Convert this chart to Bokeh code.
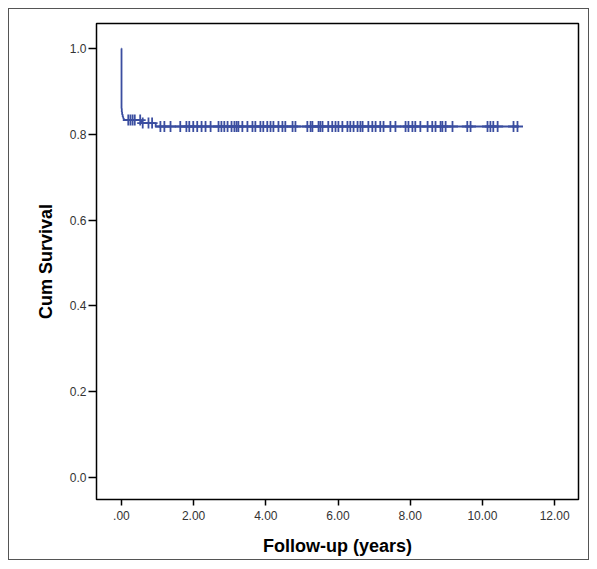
import numpy as np
from bokeh.plotting import figure
from bokeh.models import FixedTicker, Range1d
from bokeh.embed import file_html
from bokeh.resources import INLINE

# Kaplan-Meier step function (time in years, cumulative survival)
km_time = [0.0, 0.003, 0.01, 0.02, 0.035, 0.05, 0.065, 0.08, 0.55, 0.95, 11.0]
km_surv = [1.0, 0.86, 0.852, 0.846, 0.841, 0.837, 0.835, 0.833, 0.826, 0.818, 0.818]

# Censored observations (years)
censor_time = [0.19, 0.25, 0.31, 0.37, 0.52, 0.59, 0.75, 0.85,
               1.08, 1.19, 1.36, 1.63, 1.80, 1.88, 1.99, 2.10, 2.22, 2.33, 2.47,
               2.69, 2.77, 2.85, 2.94, 3.05, 3.13, 3.19, 3.24, 3.35, 3.49, 3.63,
               3.71, 3.85, 3.93, 4.04, 4.13, 4.21, 4.35, 4.46, 4.54, 4.74, 4.82,
               5.15, 5.24, 5.29, 5.46, 5.51, 5.57, 5.73, 5.84, 5.93, 6.01, 6.12,
               6.26, 6.34, 6.43, 6.54, 6.62, 6.68, 6.84, 6.95, 7.04, 7.17, 7.26,
               7.45, 7.59, 7.87, 7.95, 8.06, 8.14, 8.28, 8.48, 8.61, 8.70, 8.84,
               8.89, 8.98, 9.17, 9.58, 9.67, 10.14, 10.22, 10.30, 10.42, 10.86, 10.97]

x_ticks = [0, 2, 4, 6, 8, 10, 12]
x_tick_labels = [".00", "2.00", "4.00", "6.00", "8.00", "10.00", "12.00"]
y_ticks = [0.0, 0.2, 0.4, 0.6, 0.8, 1.0]
y_tick_labels = ["0.0", "0.2", "0.4", "0.6", "0.8", "1.0"]

line_color = "#3b4ea0"

p = figure(width=581, height=552, output_backend="svg", toolbar_location=None,
           x_range=Range1d(-0.69, 12.66), y_range=Range1d(-0.051, 1.058),
           min_border_left=87, min_border_right=12, min_border_top=14, min_border_bottom=62)
p.styles = {"border": "1px solid #555", "margin": "8px 0 0 8px"}

p.step(km_time, km_surv, mode="after", line_color=line_color, line_width=1.8)

idx = np.searchsorted(np.array(km_time), np.array(censor_time), side="right") - 1
censor_surv = np.array(km_surv)[idx]
p.scatter(censor_time, censor_surv, marker="cross", size=11, line_color=line_color,
          line_width=1.8)

p.xgrid.visible = False
p.ygrid.visible = False
p.outline_line_color = "black"
p.outline_line_width = 1.5
p.background_fill_color = "white"
p.border_fill_color = "white"

p.xaxis.ticker = FixedTicker(ticks=x_ticks)
p.xaxis.major_label_overrides = {t: l for t, l in zip(x_ticks, x_tick_labels)}
p.yaxis.ticker = FixedTicker(ticks=y_ticks)
p.yaxis.major_label_overrides = {t: l for t, l in zip(y_ticks, y_tick_labels)}

for ax in (p.xaxis, p.yaxis):
    ax.axis_line_color = None
    ax.minor_tick_line_color = None
    ax.major_tick_in = 0
    ax.major_tick_line_color = "black"
    ax.major_tick_line_width = 1.5
    ax.major_label_text_font = "Liberation Sans"
    ax.major_label_text_font_size = "12px"
    ax.major_label_text_color = "#333333"
    ax.axis_label_text_font = "Liberation Sans"
    ax.axis_label_text_font_style = "bold"
    ax.axis_label_text_font_size = "18px"
    ax.axis_label_text_color = "black"

p.xaxis.major_tick_out = 6
p.xaxis.major_label_standoff = 5
p.xaxis.axis_label = "Follow-up (years)"
p.xaxis.axis_label_standoff = 13
p.yaxis.major_tick_out = 8
p.yaxis.major_label_standoff = 2
p.yaxis.axis_label = "Cum Survival"
p.yaxis.axis_label_standoff = 11

open("out.html", "w").write(file_html(p, INLINE))
